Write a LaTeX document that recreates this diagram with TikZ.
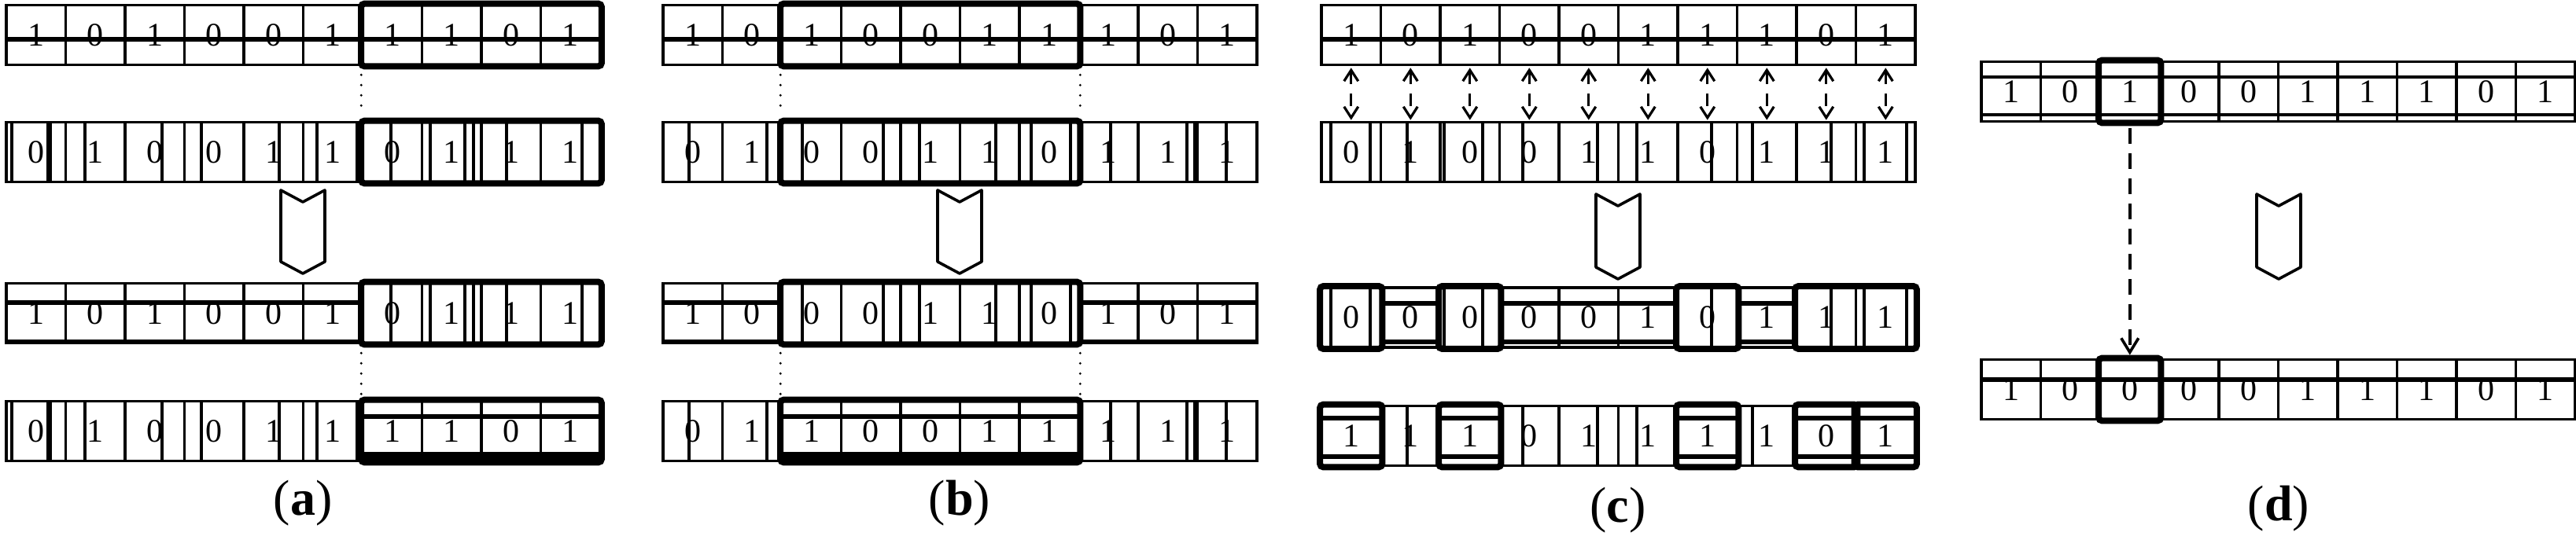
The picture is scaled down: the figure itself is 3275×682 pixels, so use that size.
\documentclass[tikz,border=0pt]{standalone}
\usepackage{fontspec}
\setmainfont{Liberation Serif}
\usetikzlibrary{arrows.meta,fit}
\newcommand\mkrow[4]{% #1 name prefix, #2 left x, #3 centre y, #4 digits
  \foreach \d [count=\k] in {#4} {
    \node[cellbox] (#1-\k) at ({#2+(\k-0.5)*75.5},#3) {\d};
  }%
}
\newcommand\mkchev[3]{% centre x, top y, bottom y
  \draw[chevron] ({#1-28},#2) -- (#1,{#2+15}) -- ({#1+28},#2) -- ({#1+28},{#3-15}) -- (#1,#3) -- ({#1-28},{#3-15}) -- cycle;
}
\newcommand\mkvert[2]{% centre y, list of x
  \foreach \x in {#2} {\draw[artv] (\x,{#1-37}) -- (\x,{#1+37});}%
}
\newcommand\hstrike[5]{% x0, from cell, to cell, y, style
  \draw[#5] ({#1+(#2-1)*75.5},#4) -- ({#1+#3*75.5},#4);%
}
\begin{document}
\begin{tikzpicture}[x=0.25pt,y=-0.25pt,
  cellbox/.style={draw,line width=0.9pt,minimum width=18.875pt,minimum height=19pt,inner sep=0pt,font=\fontsize{10.5}{10.5}\selectfont},
  hl/.style={draw,line width=2pt,rounded corners=1pt,inner sep=0pt},
  strike/.style={line width=1.4pt},
  midline/.style={line width=1pt},
  band/.style={line width=2.75pt},
  artv/.style={line width=0.85pt},
  chevron/.style={line width=0.9pt,line join=round},
  dotconn/.style={line width=0.8pt,line cap=round,dash pattern=on 0pt off 3.25pt},
  pairarrow/.style={line width=0.8pt,dash pattern=on 4pt off 3pt,{Straight Barb[length=3.5pt,width=4.5pt]}-{Straight Barb[length=3.5pt,width=4.5pt]}},
  dashconn/.style={line width=0.9pt,dash pattern=on 5pt off 3pt,-{Straight Barb[length=4.5pt,width=5.5pt]}},
  lab/.style={font=\fontsize{16}{16}\selectfont},
]
\useasboundingbox (0,0) rectangle (3275,682);

% ---------------- panel (a)
\mkrow{a1}{8}{44.5}{1,0,1,0,0,1,1,1,0,1}
\mkrow{a2}{8}{193.5}{0,1,0,0,1,1,0,1,1,1}
\mkrow{a3}{8}{398.5}{1,0,1,0,0,1,0,1,1,1}
\mkrow{a4}{8}{548.5}{0,1,0,0,1,1,1,1,0,1}
\hstrike{8}{1}{10}{50}{strike}
\mkvert{193.5}{15,61,64,108,206,256,355,403,454,497,547,591,602,644,740}
\hstrike{8}{1}{6}{385}{strike}
\hstrike{8}{1}{6}{435}{strike}
\mkvert{398.5}{497,547,591,602,644,740}
\mkvert{548.5}{15,61,64,108,206,256,355,403,454}
\hstrike{8}{7}{10}{530}{strike}
\hstrike{8}{7}{10}{581}{band}
\node[hl,fit=(a1-7)(a1-10)] (a1h) {};
\node[hl,fit=(a2-7)(a2-10)] (a2h) {};
\node[hl,fit=(a3-7)(a3-10)] (a3h) {};
\node[hl,fit=(a4-7)(a4-10)] (a4h) {};
\draw[dotconn] ([yshift=-2.75pt]a1-7.south west) -- ([yshift=1.75pt]a2-7.north west);
\draw[dotconn] ([yshift=-2.75pt]a3-7.south west) -- ([yshift=1.75pt]a4-7.north west);
\mkchev{385}{242}{348}
\node[lab] (la) at (385,640) {(\textbf{a})};

% ---------------- panel (b)
\mkrow{b1}{843}{44.5}{1,0,1,0,0,1,1,1,0,1}
\mkrow{b2}{843}{193.5}{0,1,0,0,1,1,0,1,1,1}
\mkrow{b3}{843}{398.5}{1,0,0,0,1,1,0,1,0,1}
\mkrow{b4}{843}{548.5}{0,1,1,0,0,1,1,1,1,1}
\hstrike{843}{1}{10}{50}{strike}
\mkvert{193.5}{876,975,1020,1123,1169,1266,1311,1361,1412,1509,1519,1559}
\hstrike{843}{1}{2}{385}{strike}
\hstrike{843}{8}{10}{385}{strike}
\hstrike{843}{1}{2}{435}{strike}
\hstrike{843}{8}{10}{435}{strike}
\mkvert{398.5}{1020,1123,1169,1266,1311,1361}
\mkvert{548.5}{876,975,1412,1509,1519,1559}
\hstrike{843}{3}{7}{530}{strike}
\hstrike{843}{3}{7}{581}{band}
\node[hl,fit=(b1-3)(b1-7)] (b1h) {};
\node[hl,fit=(b2-3)(b2-7)] (b2h) {};
\node[hl,fit=(b3-3)(b3-7)] (b3h) {};
\node[hl,fit=(b4-3)(b4-7)] (b4h) {};
\draw[dotconn] ([yshift=-2.75pt]b1-3.south west) -- ([yshift=1.75pt]b2-3.north west);
\draw[dotconn] ([yshift=-2.75pt]b1-7.south east) -- ([yshift=1.75pt]b2-7.north east);
\draw[dotconn] ([yshift=-2.75pt]b3-3.south west) -- ([yshift=1.75pt]b4-3.north west);
\draw[dotconn] ([yshift=-2.75pt]b3-7.south east) -- ([yshift=1.75pt]b4-7.north east);
\mkchev{1220}{242}{348}
\node[lab] (lb) at (1220,640) {(\textbf{b})};

% ---------------- panel (c)
\mkrow{c1}{1680}{44.5}{1,0,1,0,0,1,1,1,0,1}
\mkrow{c2}{1680}{193.5}{0,1,0,0,1,1,0,1,1,1}
\mkrow{c3}{1680}{404}{0,0,0,0,0,1,0,1,1,1}
\mkrow{c4}{1680}{554.5}{1,1,1,0,1,1,1,1,0,1}
\hstrike{1680}{1}{10}{50}{strike}
\mkvert{193.5}{1692,1742,1789,1836,1885,1936,2031,2081,2176,2228,2328,2370,2424}
\hstrike{1680}{2}{2}{386}{strike}
\hstrike{1680}{4}{6}{386}{strike}
\hstrike{1680}{8}{8}{386}{strike}
\hstrike{1680}{2}{2}{435}{strike}
\hstrike{1680}{4}{6}{435}{strike}
\hstrike{1680}{8}{8}{435}{strike}
\mkvert{404}{1692,1742,1836,1885,2176,2328,2370,2424}
\hstrike{1680}{1}{1}{532}{strike}
\hstrike{1680}{3}{3}{532}{strike}
\hstrike{1680}{7}{7}{532}{strike}
\hstrike{1680}{9}{10}{532}{strike}
\hstrike{1680}{1}{1}{581}{strike}
\hstrike{1680}{3}{3}{581}{strike}
\hstrike{1680}{7}{7}{581}{strike}
\hstrike{1680}{9}{10}{581}{strike}
\mkvert{554.5}{1789,1936,2031,2081,2228}
\node[hl,fit=(c3-1)] (c3h1) {};
\node[hl,fit=(c3-3)] (c3h3) {};
\node[hl,fit=(c3-7)] (c3h7) {};
\node[hl,fit=(c3-9)(c3-10)] (c3h9) {};
\node[hl,fit=(c4-1)] (c4h1) {};
\node[hl,fit=(c4-3)] (c4h3) {};
\node[hl,fit=(c4-7)] (c4h7) {};
\node[hl,fit=(c4-9)] (c4h9) {};
\node[hl,fit=(c4-10)] (c4h10) {};
\foreach \k in {1,...,10} {
  \draw[pairarrow] ([yshift=-0.5pt]c1-\k.south) -- ([yshift=0.25pt]c2-\k.north);
}
\mkchev{2057}{247}{355}
\node[lab] (lc) at (2057,649) {(\textbf{c})};

% ---------------- panel (d)
\mkrow{d1}{2519}{116.5}{1,0,1,0,0,1,1,1,0,1}
\mkrow{d2}{2519}{495.5}{1,0,0,0,0,1,1,1,0,1}
\hstrike{2519}{1}{10}{98.5}{midline}
\hstrike{2519}{1}{10}{146.5}{midline}
\hstrike{2519}{1}{10}{483}{strike}
\node[hl,fit=(d1-3)] (d1h) {};
\node[hl,fit=(d2-3)] (d2h) {};
\draw[dashconn] ([yshift=-0.75pt]d1h.south) -- (d2h.north);
\mkchev{2897}{247}{355}
\node[lab] (ld) at (2897,647) {(\textbf{d})};
\end{tikzpicture}
\end{document}
